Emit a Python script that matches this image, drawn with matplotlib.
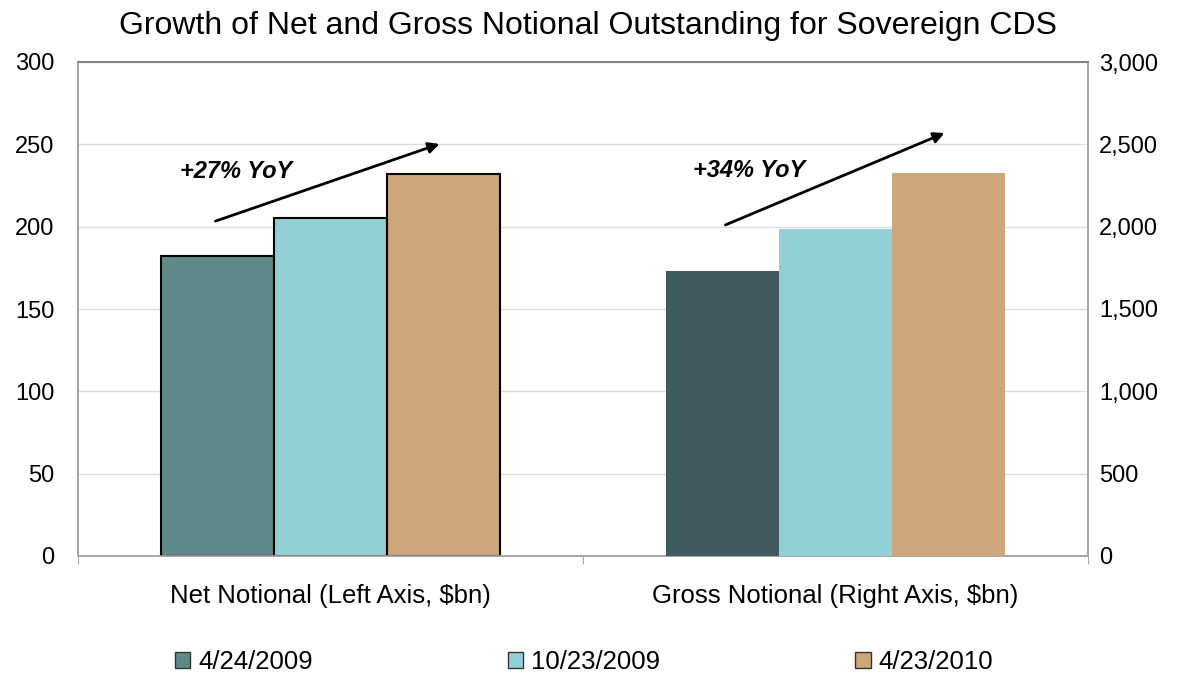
import numpy as np
import matplotlib as mpl
mpl.use("Agg")
import matplotlib.pyplot as plt
from matplotlib.patches import Patch
from matplotlib.ticker import FuncFormatter

plt.rcParams["font.family"] = ["Liberation Sans", "DejaVu Sans"]

categories = ["Net Notional (Left Axis, $bn)", "Gross Notional (Right Axis, $bn)"]
dates = ["4/24/2009", "10/23/2009", "4/23/2010"]
net_values = [182, 205, 232]
gross_values = [1732, 1987, 2326]
net_colors = ["#5f8a8a", "#93d0d6", "#cba779"]
gross_colors = ["#3e5a5d", "#93d0d6", "#cba779"]

fig = plt.figure(figsize=(11.78, 6.74), dpi=100)
ax = fig.add_axes([78 / 1178, 1 - 556 / 674, 1010 / 1178, 494 / 674])
ax2 = ax.twinx()

width = 0.224
offsets = np.array([-1, 0, 1]) * width

for i in range(3):
    ax.bar(0 + offsets[i], net_values[i], width, color=net_colors[i],
           edgecolor="black", linewidth=1.5, zorder=3)
    ax2.bar(1 + offsets[i], gross_values[i], width, color=gross_colors[i],
            linewidth=0, zorder=3)

ax.set_xlim(-0.5, 1.5)
ax.set_ylim(0, 300)
ax2.set_ylim(0, 3000)
ax.set_yticks(np.arange(0, 301, 50))
ax2.set_yticks(np.arange(0, 3001, 500))
ax2.yaxis.set_major_formatter(FuncFormatter(lambda v, p: f"{int(v):,}"))

ax.grid(axis="y", color="#dcdcdc", linewidth=1)
ax.set_axisbelow(True)

ax.set_xticks([0, 1])
ax.set_xticklabels(categories, fontsize=18.5)
ax.set_xticks([-0.5, 0.5, 1.5], minor=True)
ax.tick_params(axis="x", which="major", length=0, pad=20)
ax.tick_params(axis="x", which="minor", length=6, color="#999999", direction="out")
ax.tick_params(axis="y", length=0, pad=17, labelsize=17)
ax2.tick_params(axis="y", length=0, pad=8, labelsize=17)

for a in (ax, ax2):
    for s in a.spines.values():
        s.set_color("#a6a6a6")
        s.set_linewidth(1.2)
ax.spines["top"].set_color("#808080")
ax2.spines["top"].set_color("#808080")

# growth arrows
ax.annotate("", xy=(0.221, 250.8), xytext=(-0.233, 202.8),
            arrowprops=dict(arrowstyle="-|>", color="black", lw=2, mutation_scale=16))
ax.text(-0.186, 233.2, "+27% YoY", fontsize=17, fontweight="bold", fontstyle="italic",
        ha="center", va="center")
ax2.annotate("", xy=(1.221, 2575), xytext=(0.777, 2004),
             arrowprops=dict(arrowstyle="-|>", color="black", lw=2, mutation_scale=16))
ax2.text(0.828, 2344, "+34% YoY", fontsize=17, fontweight="bold", fontstyle="italic",
         ha="center", va="center")

fig.suptitle("Growth of Net and Gross Notional Outstanding for Sovereign CDS",
             fontsize=23, x=588 / 1178, y=1 - 26 / 674, va="center")

handles = [Patch(facecolor=c, edgecolor="#333333", linewidth=1) for c in net_colors]
fig.legend(handles, dates, loc="center", bbox_to_anchor=(584 / 1178, 12 / 674),
           ncol=3, frameon=False, fontsize=18.5, handlelength=0.6, handleheight=0.6,
           handletextpad=0.3, columnspacing=7.6, borderpad=0)

fig.savefig("out.png", dpi=100)
